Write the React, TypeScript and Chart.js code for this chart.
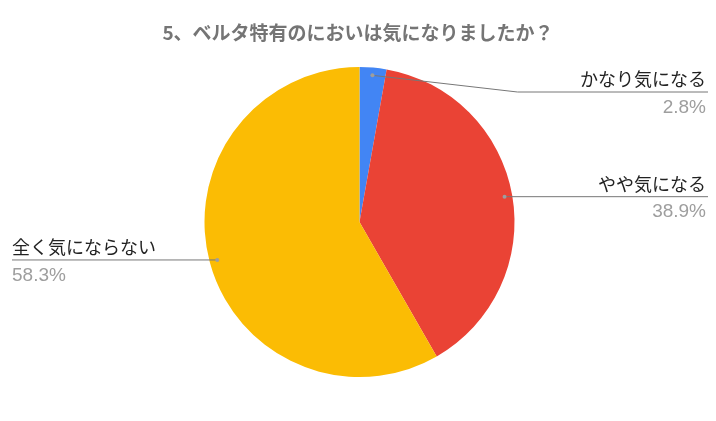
import React, { useEffect, useRef } from 'react';
import { Chart, registerables, ChartConfiguration, Plugin } from 'chart.js';

Chart.register(...registerables);

const TITLE = '5、ベルタ特有のにおいは気になりましたか？';
const categories = ['かなり気になる', 'やや気になる', '全く気にならない'];
const values = [2.8, 38.9, 58.3];
const colors = ['#4285F4', '#EA4335', '#FBBC04'];

// label layout: which side the callout sits on, and an optional elbow y override
const labelSide: ('left' | 'right')[] = ['right', 'right', 'left'];
const elbowY: (number | null)[] = [92, null, null];

const FONT = '"Noto Sans CJK JP", "Noto Sans", Roboto, sans-serif';
const NUM_FONT = '"Liberation Sans", Arial, sans-serif';

const calloutPlugin: Plugin<'pie'> = {
  id: 'callouts',
  afterDraw(chart) {
    const ctx = chart.ctx;
    const meta = chart.getDatasetMeta(0);
    const W = chart.width;

    ctx.save();
    // title
    ctx.font = `bold 19px ${FONT}`;
    ctx.fillStyle = '#757575';
    ctx.textAlign = 'center';
    ctx.textBaseline = 'middle';
    ctx.fillText(TITLE, W / 2, 33);

    meta.data.forEach((el: any, i: number) => {
      const { x, y, startAngle, endAngle, outerRadius } = el.getProps(
        ['x', 'y', 'startAngle', 'endAngle', 'outerRadius'],
        true
      );
      const mid = (startAngle + endAngle) / 2;
      const r = outerRadius * 0.95;
      const dx = x + Math.cos(mid) * r;
      const dy = y + Math.sin(mid) * r;
      const side = labelSide[i];
      const ly = elbowY[i] ?? dy;
      const endX = side === 'right' ? W - 8 : 12;
      const textX = side === 'right' ? endX - 2 : endX;

      ctx.strokeStyle = '#777777';
      ctx.lineWidth = 1;
      ctx.beginPath();
      ctx.moveTo(dx, dy);
      if (elbowY[i] != null) {
        ctx.lineTo(x + outerRadius + 3, ly);
      }
      ctx.lineTo(endX, ly);
      ctx.stroke();

      ctx.fillStyle = '#9e9e9e';
      ctx.beginPath();
      ctx.arc(dx, dy, 2, 0, Math.PI * 2);
      ctx.fill();

      ctx.textAlign = side === 'right' ? 'right' : 'left';
      ctx.font = `18px ${FONT}`;
      ctx.fillStyle = '#222222';
      ctx.textBaseline = 'alphabetic';
      ctx.fillText(categories[i], textX, ly - 6);
      ctx.font = `19px ${NUM_FONT}`;
      ctx.fillStyle = '#9e9e9e';
      ctx.textBaseline = 'top';
      ctx.fillText(values[i].toFixed(1) + '%', textX, ly + 6);
    });
    ctx.restore();
  },
};

function PieChart() {
  const canvasRef = useRef<HTMLCanvasElement | null>(null);
  const chartRef = useRef<Chart<'pie'> | null>(null);

  useEffect(() => {
    const canvas = canvasRef.current;
    if (!canvas) return;
    if (chartRef.current) chartRef.current.destroy();

    const config: ChartConfiguration<'pie'> = {
      type: 'pie',
      data: {
        labels: categories,
        datasets: [
          {
            data: values,
            backgroundColor: colors,
            borderWidth: 0,
          },
        ],
      },
      options: {
        responsive: false,
        animation: false,
        layout: { padding: { top: 67, bottom: 44, left: 3, right: 0 } },
        plugins: {
          legend: { display: false },
          tooltip: { enabled: false },
        },
      },
      plugins: [calloutPlugin],
    };

    chartRef.current = new Chart(canvas, config);
    return () => {
      chartRef.current?.destroy();
      chartRef.current = null;
    };
  }, []);

  return <canvas ref={canvasRef} width={716} height={421} />;
}

export default function App() {
  return (
    <div style={{ position: 'absolute', left: 0, top: 0, width: 716, height: 421, background: '#fff' }}>
      <PieChart />
    </div>
  );
}
